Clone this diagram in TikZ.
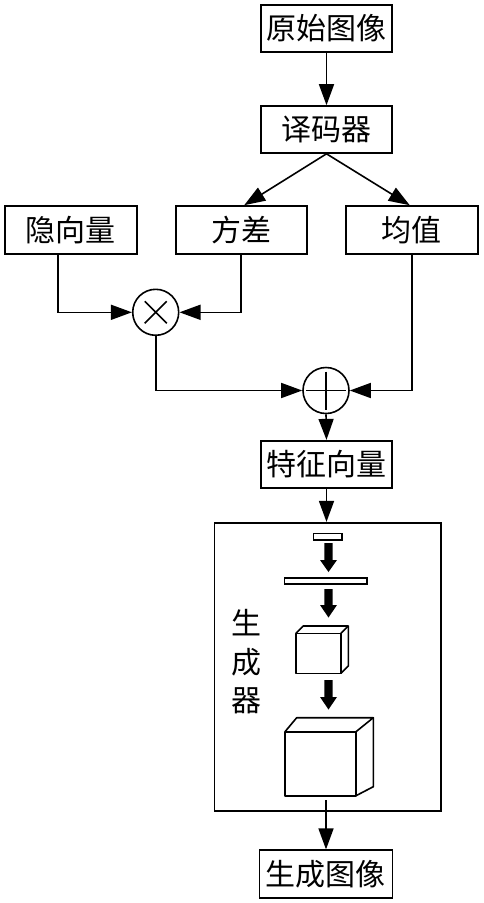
\documentclass[tikz,border=0pt]{standalone}
\usepackage{fontspec}
\newfontfamily\cjk{Noto Sans CJK SC}
\usetikzlibrary{arrows.meta,calc}
\newcommand\fatarrow[4]{% x, ytop, yhead, ybot
  \fill (#1-4.2,#2) -- (#1+4.2,#2) -- (#1+4.2,#3) -- (#1+8.5,#3) -- (#1,#4) -- (#1-8.5,#3) -- (#1-4.2,#3) -- cycle;}
\begin{document}
\begin{tikzpicture}[x=1pt,y=-1pt,
  every path/.style={line width=1.6pt},
  blk/.style={draw, minimum width=131pt, minimum height=47pt, inner sep=0pt, font=\cjk\fontsize{30}{32}\selectfont},
  op/.style={draw, circle, minimum size=46pt, inner sep=0pt},
  arr/.style={-{Triangle[length=21pt,width=15pt]}}]
\useasboundingbox (0,0) rectangle (483,903);
\node[blk] (orig) at (326.5,28.5) {原始图像};
\node[blk] (dec) at (326.5,129.5) {译码器};
\node[blk, minimum width=132pt, minimum height=48pt] (latent) at (70.7,229.7) {隐向量};
\node[blk, minimum height=48pt] (var) at (241.2,230) {方差};
\node[blk, minimum width=132pt, minimum height=48pt] (mean) at (411.7,230) {均值};
\node[op] (mul) at (155.7,312.3) {};
\draw ($(mul)+(-11,-11)$) -- ($(mul)+(11,11)$) ($(mul)+(-11,11)$) -- ($(mul)+(11,-11)$);
\node[op] (add) at (326,390.5) {};
\draw ($(add)+(-20,0)$) -- ($(add)+(20,0)$) ($(add)+(0,-19)$) -- ($(add)+(0,19)$);
\node[blk] (feat) at (326.5,464.2) {特征向量};
\node[draw, minimum width=226.4pt, minimum height=288.3pt, inner sep=0pt] (gen) at (327.5,666.85) {};
\node[blk, minimum width=133pt, minimum height=48pt] (out) at (325.8,874.2) {生成图像};
\node[font=\cjk\fontsize{30}{38.5}\selectfont, align=center, inner sep=0pt] (genlbl) at (246,662) {生\\成\\器};
% connectors
\draw[arr] (orig) -- (dec);
\draw[arr] (dec.south) -- ([xshift=3pt]var.north);
\draw[arr] (dec.south) -- ([xshift=-2pt]mean.north);
\draw[arr] ([xshift=-13pt]latent.south) |- (mul.west);
\draw[arr] (var.south) |- (mul.east);
\draw[arr] (mul.south) |- (add.west);
\draw[arr] (mean.south) |- (add.east);
\draw[arr] (add.south) -- (feat.north);
\draw[arr] (feat.south) -- (feat.south |- gen.north);
\coordinate (gs) at (326,800);
\draw[arr] (gs) -- (gs |- out.north);
% generator illustration
\draw (313.3,533.3) rectangle (341.7,540);
\fatarrow{328.5}{543}{560}{572}
\draw (284.3,577.7) rectangle (366.7,584);
\fatarrow{328.5}{589}{605}{617.5}
\draw[line join=round] (296,633.3) rectangle (341,673.3);
\draw[line join=round] (296,633.3) -- (303.3,626) -- (348.3,626) -- (341,633.3);
\draw[line join=round] (348.3,626) -- (348.3,666) -- (341,673.3);
\fatarrow{328.5}{680}{697}{709.5}
\draw[line join=round] (285,731.7) rectangle (356,795.7);
\draw[line join=round] (285,731.7) -- (296.7,717.7) -- (373.3,717.7) -- (356,731.7);
\draw[line join=round] (373.3,717.7) -- (373.3,786.7) -- (356,795.7);
\end{tikzpicture}
\end{document}
